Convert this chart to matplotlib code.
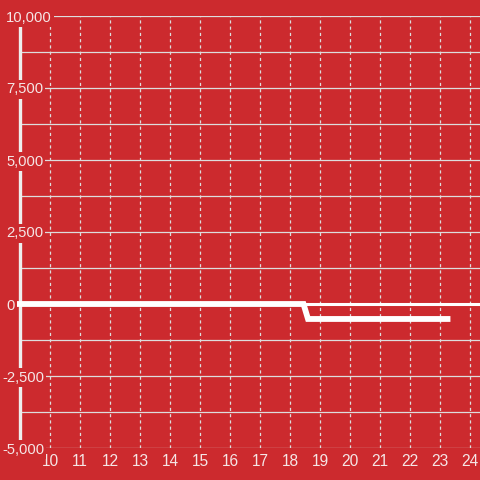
import matplotlib.pyplot as plt
import matplotlib.transforms as mtransforms

# series values
x_vals = [8.9, 18.45, 18.6, 23.25]
y_vals = [0, 0, -520, -520]

x_ticks = list(range(10, 25))
y_grid = [-5000, -3750, -2500, -1250, 0, 1250, 2500, 3750, 5000, 6250, 7500, 8750, 10000]
y_labels = [-5000, -2500, 0, 2500, 5000, 7500, 10000]

bg = '#cc2a2e'
grid_col = '#dddddd'
plt.rcParams['font.family'] = ['Liberation Sans', 'DejaVu Sans']

fig = plt.figure(figsize=(4.8, 4.8), dpi=100, facecolor=bg)
ax = fig.add_axes([17 / 480, 32 / 480, 463 / 480, 432 / 480])
ax.set_facecolor(bg)
ax.set_xlim(8.9, 24.333)
ax.set_ylim(-5000, 10000)

for s in ax.spines.values():
    s.set_visible(False)

# grid
ax.hlines(y_grid, 9.0, 24.333, colors=grid_col, linewidth=0.9, zorder=1)
ax.vlines(x_ticks, -5000, 10000, colors=grid_col, linewidth=0.9,
          linestyles=(0, (2.5, 2.5)), zorder=1)

# y axis line and zero line
ax.axvline(9.0, color='#eeeeee', linewidth=2.4, zorder=2)
ax.axhline(0, color='white', linewidth=2.2, zorder=3)

# data line
ax.plot(x_vals, y_vals, color='white', linewidth=4.2, solid_joinstyle='miter',
        clip_on=False, zorder=4)

# x tick labels
ax.set_xticks(x_ticks)
ax.set_xticklabels([str(v) for v in x_ticks])
ax.tick_params(axis='x', length=0, pad=4, labelsize=11.2, labelcolor='#f5e6e6')
ax.set_yticks([])

# y labels drawn inside the plot with a background box
trans = mtransforms.blended_transform_factory(fig.transFigure, ax.transData)
trans = trans + mtransforms.ScaledTranslation(0, -1.5 / 100, fig.dpi_scale_trans)
for v in y_labels:
    x0 = 2 if v < 0 else 6
    ax.text(x0 / 480, v, f'{v:,}', transform=trans, ha='left', va='center',
            fontsize=10.6, color='#f5e6e6', zorder=6,
            bbox=dict(boxstyle='square,pad=0.15', fc=bg, ec='none'))

fig.savefig('out.png', dpi=100, facecolor=bg)
